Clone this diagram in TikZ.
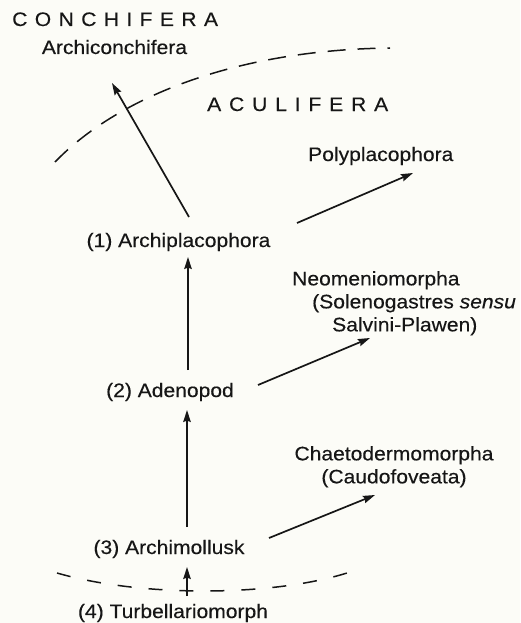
\documentclass[tikz,border=0pt]{standalone}
\usepackage{fontspec}
\setmainfont[FakeStretch=1.08,FakeBold=0.3]{Liberation Sans}
\usetikzlibrary{arrows.meta}
\definecolor{paper}{RGB}{252,252,247}
\definecolor{ink}{RGB}{22,22,22}
\newcommand\lspa{\kern7.4pt}
\newcommand\lspb{\kern7.85pt}
\begin{document}
\begin{tikzpicture}[x=1pt,y=-1pt,
  lbl/.style={inner sep=0pt, text=ink, font=\fontsize{19.5}{23}\selectfont},
  arr/.style={draw=ink, line width=1.7pt, -{Stealth[length=12pt,width=7.5pt,inset=1.5pt]}},
  border/.style={draw=ink, line width=1.5pt}]
\fill[paper] (0,0) rectangle (520,623);
\useasboundingbox (0,0) rectangle (520,623);

% group labels
\node[lbl, anchor=base west] (conch) at (12,26) {C\lspa O\lspa N\lspa C\lspa H\lspa I\lspa F\lspa E\lspa R\lspa A};
\node[lbl, anchor=base west] (acul) at (207,111) {A\lspb C\lspb U\lspb L\lspb I\lspb F\lspb E\lspb R\lspb A};

% taxa
\node[lbl, anchor=base] (archic) at (114.5,54) {Archiconchifera};
\node[lbl, anchor=base west] (poly) at (308,161) {Polyplacophora};
\node[lbl, anchor=base] (a1) at (178.5,247) {(1) Archiplacophora};
\node[lbl, anchor=north west, align=left] (neo) at (292,271)
  {Neomeniomorpha\\\hspace*{20pt}(Solenogastres \textit{sensu}\\\hspace*{40pt}Salvini-Plawen)};
\node[lbl, anchor=base] (a2) at (170,397) {(2) Adenopod};
\node[lbl, anchor=north, align=center] (chaeto) at (394,446) {Chaetodermomorpha\\(Caudofoveata)};
\node[lbl, anchor=base] (a3) at (169,554) {(3) Archimollusk};
\node[lbl, anchor=base] (a4) at (173,618) {(4) Turbellariomorph};

% connector ends
\coordinate (a1up) at (189,217);
\coordinate (archicEnd) at (112,83);
\coordinate (a1right) at (297,223);
\coordinate (polyEnd) at (413,173);
\coordinate (a1low) at (188,257);
\coordinate (a2up) at (188,370);
\coordinate (a2right) at (258,385);
\coordinate (neoEnd) at (370,338);
\coordinate (a2low) at (187,410);
\coordinate (a3up) at (187,527);
\coordinate (a3right) at (269,538);
\coordinate (chaetoEnd) at (375,495);
\coordinate (a3low) at (187,567);
\coordinate (a4up) at (187,596);

% connectors
\draw[arr] (a1up) -- (archicEnd);
\draw[arr] (a1right) -- (polyEnd);
\draw[arr] (a2up) -- (a1low);
\draw[arr] (a2right) -- (neoEnd);
\draw[arr] (a3up) -- (a2low);
\draw[arr] (a3right) -- (chaetoEnd);
\draw[arr] (a4up) -- (a3low);

% boundaries
\draw[border, dash pattern=on 18pt off 12pt] (55,162) .. controls (115,100) and (230,50) .. (390,48);
\draw[border, dash pattern=on 14pt off 17pt] (57,573) .. controls (140,597) and (270,597) .. (347,573);
\end{tikzpicture}
\end{document}
